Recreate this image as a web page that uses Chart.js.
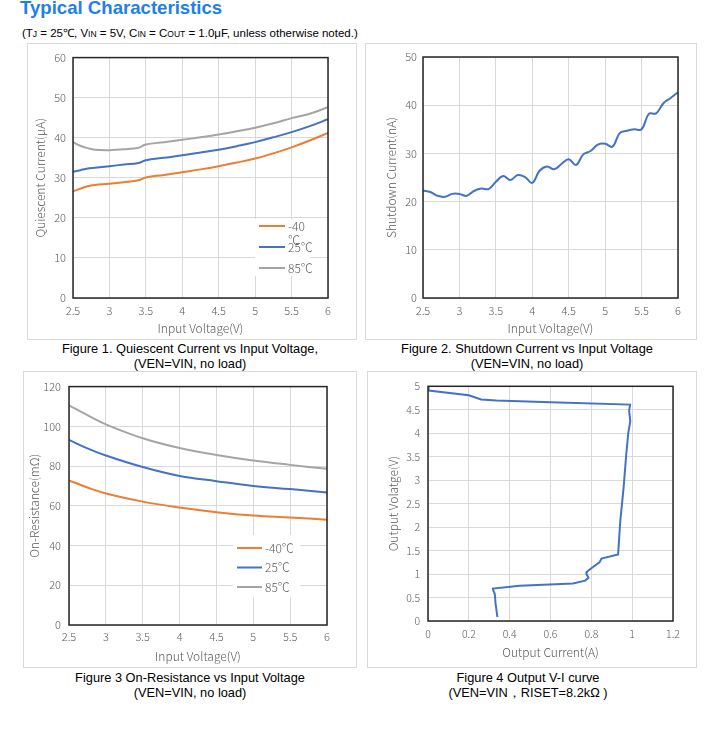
<!DOCTYPE html>
<html>
<head>
<meta charset="utf-8">
<title>Typical Characteristics</title>
<script src="https://cdn.jsdelivr.net/npm/chart.js@4.4.1/dist/chart.umd.min.js"></script>
<style>
  html, body { margin: 0; padding: 0; background: #fff; }
  body { width: 716px; height: 732px; position: relative; overflow: hidden;
         font-family: "Liberation Sans", Arial, sans-serif; }
  .title { position: absolute; left: 20px; top: -1px; font-size: 18.6px; line-height: 18px;
           font-weight: bold; color: #1f80e6; white-space: nowrap; }
  .cond { position: absolute; left: 22px; top: 26px; font-size: 11.5px; line-height: 14px;
          color: #000; white-space: nowrap; }
  .cond small { font-size: 8.5px; }
  .panel { position: absolute; box-sizing: border-box; border: 1px solid #d9d9d9; }
  .panel > div { position: absolute; left: 0; top: 0; width: 100%; height: 100%; }
  .cap { position: absolute; width: 330px; text-align: center; font-size: 12.8px;
         line-height: 15px; color: #000; white-space: nowrap; }
</style>
</head>
<body>
<div class="title">Typical Characteristics</div>
<div class="cond">(T<small>J</small> = 25℃, V<small>IN</small> = 5V, C<small>IN</small> = C<small>OUT</small> = 1.0μF, unless otherwise noted.)</div>

<div class="panel" style="left:27px;top:43px;width:330px;height:297px"><div><canvas id="chartQ"></canvas></div></div>
<div class="panel" style="left:365px;top:43px;width:332px;height:297px"><div><canvas id="chartSd"></canvas></div></div>
<div class="panel" style="left:23px;top:371px;width:334px;height:297px"><div><canvas id="chartRon"></canvas></div></div>
<div class="panel" style="left:367px;top:371px;width:330px;height:297px"><div><canvas id="chartVi"></canvas></div></div>

<div class="cap" style="left:25px;top:341px">Figure 1. Quiescent Current vs Input Voltage,<br>(VEN=VIN, no load)</div>
<div class="cap" style="left:362px;top:341px">Figure 2. Shutdown Current vs Input Voltage<br>(VEN=VIN, no load)</div>
<div class="cap" style="left:25px;top:670px">Figure 3 On-Resistance vs Input Voltage<br>(VEN=VIN, no load)</div>
<div class="cap" style="left:363px;top:670px">Figure 4 Output V-I curve<br>(VEN=VIN，RISET=8.2kΩ )</div>

<script>
// ── Data ────────────────────────────────────────────────────────────────────
// Figure 1: quiescent current (µA) vs input voltage
const qVin  = [2.5, 2.6, 2.7, 2.8, 3.0, 3.2, 3.4, 3.5, 3.75, 4.0, 4.25, 4.5, 4.75, 5.0, 5.25, 5.5, 5.75, 6.0];
const qCold = [26.6, 27.3, 27.9, 28.2, 28.5, 28.9, 29.4, 30.1, 30.7, 31.4, 32.1, 32.9, 33.8, 34.8, 36.1, 37.6, 39.3, 41.2];
const qRoom = [31.5, 31.9, 32.3, 32.5, 32.9, 33.3, 33.7, 34.4, 35.0, 35.6, 36.3, 37.0, 37.9, 38.9, 40.1, 41.4, 42.9, 44.6];
const qHot  = [38.9, 38.0, 37.4, 37.0, 36.9, 37.1, 37.5, 38.3, 38.9, 39.5, 40.1, 40.8, 41.6, 42.5, 43.6, 44.9, 46.0, 47.6];

// Figure 2: shutdown current (nA) vs input voltage
const sdVin = [2.5, 2.6, 2.7, 2.8, 2.9, 3.0, 3.1, 3.2, 3.3, 3.4, 3.5, 3.6, 3.7, 3.8, 3.9, 4.0, 4.1, 4.2,
               4.3, 4.4, 4.5, 4.6, 4.7, 4.8, 4.9, 5.0, 5.1, 5.2, 5.3, 5.4, 5.5, 5.6, 5.7, 5.8, 5.9, 6.0];
const sdCur = [22.3, 22.0, 21.2, 21.0, 21.6, 21.6, 21.2, 22.2, 22.7, 22.6, 24.1, 25.3, 24.5, 25.5, 25.1, 23.9, 26.4, 27.3,
               26.7, 27.8, 28.8, 27.6, 29.8, 30.5, 31.8, 32.0, 31.4, 34.2, 34.7, 35.0, 35.0, 38.2, 38.3, 40.4, 41.5, 42.7];

// Figure 3: on-resistance (mΩ) vs input voltage
const ronVin  = [2.5, 2.75, 3.0, 3.5, 4.0, 4.5, 5.0, 5.5, 6.0];
const ronCold = [72.8, 69.2, 66.2, 62.1, 59.1, 56.8, 55.1, 54.1, 53.0];
const ronRoom = [93.2, 88.9, 85.3, 79.5, 75.0, 72.4, 70.0, 68.4, 66.7];
const ronHot  = [110.6, 105.6, 101.0, 94.0, 89.1, 85.6, 82.8, 80.6, 78.6];

// Figure 4: output V-I curve, traced in drawing order
const viCurrent = [0, 0.003, 0.2, 0.26, 0.335, 0.6, 0.99, 0.985, 0.991, 0.981, 0.971, 0.958, 0.942, 0.931,
                   0.85, 0.84, 0.808, 0.778, 0.776, 0.786, 0.77, 0.71, 0.45, 0.318, 0.318, 0.327, 0.331, 0.34];
const viVoltage = [5.0, 4.91, 4.81, 4.72, 4.70, 4.66, 4.61, 4.48, 4.26, 4.01, 3.55, 2.84, 2.14, 1.42,
                   1.33, 1.25, 1.15, 1.05, 1.00, 0.92, 0.86, 0.80, 0.75, 0.69, 0.67, 0.58, 0.37, 0.085];

const tempLabels = ['-40℃', '25℃', '85℃'];

// ── Look ────────────────────────────────────────────────────────────────────
const ORANGE = '#ed7d31';
const BLUE = '#4472c4';
const GRAY = '#a5a5a5';
const GRID = '#d9d9d9';
const TEXT = '#595959';
const FRAME = '#262626';
const FONT = '"Noto Sans CJK SC", "Noto Sans", sans-serif';

Chart.defaults.font.family = FONT;
Chart.defaults.font.weight = '300';
Chart.defaults.color = TEXT;
Chart.defaults.animation = false;
Chart.defaults.plugins.legend.display = false;
Chart.defaults.plugins.tooltip.enabled = false;

// dark box round the plot area, like the Excel plot-area border
const plotFrame = {
  id: 'plotFrame',
  afterDatasetsDraw(chart) {
    const { ctx, chartArea: a } = chart;
    ctx.save();
    ctx.strokeStyle = FRAME;
    ctx.lineWidth = 1.5;
    ctx.strokeRect(a.left, a.top, a.right - a.left, a.bottom - a.top);
    ctx.restore();
  }
};

// legend sitting inside the plot, on a white patch
const insideLegend = {
  id: 'insideLegend',
  afterDatasetsDraw(chart, args, opts) {
    if (!opts || !opts.x) return;
    const { ctx } = chart;
    ctx.save();
    ctx.fillStyle = '#fff';
    ctx.fillRect(opts.box[0], opts.box[1], opts.box[2], opts.box[3]);
    ctx.font = '300 12px ' + FONT;
    ctx.textBaseline = 'middle';
    ctx.textAlign = 'left';
    chart.data.datasets.forEach((ds, i) => {
      const y = opts.y + i * opts.step;
      ctx.strokeStyle = ds.borderColor;
      ctx.lineWidth = 2;
      ctx.beginPath();
      ctx.moveTo(opts.x, y);
      ctx.lineTo(opts.x + opts.len, y);
      ctx.stroke();
      ctx.fillStyle = TEXT;
      const lines = opts.wrap ? ds.label.split(' ') : [ds.label];
      lines.forEach((t, k) => ctx.fillText(t, opts.x + opts.len + 3, y + k * 14));
    });
    ctx.restore();
  }
};

Chart.register(plotFrame, insideLegend);

// Excel-style tick text: 3 not 3.0
const plainNum = v => String(Number(v.toFixed(3)));

function linearAxis(o) {
  const left = o.pos === 'left';
  return {
    type: 'linear',
    position: o.pos,
    min: o.min,
    max: o.max,
    afterFit: s => { if (left) s.width = o.size; else s.height = o.size; },
    grid: { color: GRID, lineWidth: 1, drawTicks: false },
    border: { display: false },
    ticks: {
      stepSize: o.step,
      padding: o.tickPad,
      autoSkip: false,
      maxRotation: 0,
      color: TEXT,
      font: { size: o.tickSize || 11 },
      callback: plainNum
    },
    title: {
      display: true,
      text: o.title,
      color: TEXT,
      font: { size: 12 },
      padding: left ? { top: o.titlePad, bottom: 0 } : { top: 0, bottom: o.titlePad }
    }
  };
}

function series(label, color, xs, ys, tension) {
  return {
    label,
    data: xs.map((x, i) => ({ x, y: ys[i] })),
    borderColor: color,
    backgroundColor: color,
    borderWidth: 2,
    pointRadius: 0,
    showLine: true,
    fill: false,
    tension
  };
}

function makeChart(id, datasets, x, y, pad, legend) {
  return new Chart(document.getElementById(id), {
    type: 'scatter',
    data: { datasets },
    options: {
      responsive: true,
      maintainAspectRatio: false,
      layout: { padding: { left: 0, top: pad.top, right: pad.right, bottom: 0 } },
      scales: { x: linearAxis(Object.assign({ pos: 'bottom' }, x)), y: linearAxis(Object.assign({ pos: 'left' }, y)) },
      plugins: { insideLegend: legend || {} }
    }
  });
}

// ── Figure 1 ────────────────────────────────────────────────────────────────
makeChart('chartQ', [
    series('-40 ℃', ORANGE, qVin, qCold, 0.4),
    series(tempLabels[1], BLUE, qVin, qRoom, 0.4),
    series(tempLabels[2], GRAY, qVin, qHot, 0.4)
  ],
  { min: 2.5, max: 6, step: 0.5, size: 41, tickPad: 6, title: 'Input Voltage(V)', titlePad: 3 },
  { min: 0, max: 60, step: 10, size: 45, tickPad: 7, title: 'Quiescent Current(μA)', titlePad: 5 },
  { top: 13, right: 28 },
  { x: 231, y: 182, step: 21, len: 26, wrap: true, box: [227, 175, 55, 57] }
);

// ── Figure 2 ────────────────────────────────────────────────────────────────
makeChart('chartSd', [series('Shutdown', BLUE, sdVin, sdCur, 0.4)],
  { min: 2.5, max: 6, step: 0.5, size: 41, tickPad: 6, title: 'Input Voltage(V)', titlePad: 3 },
  { min: 0, max: 50, step: 10, size: 57, tickPad: 6, title: 'Shutdown Current(nA)', titlePad: 18 },
  { top: 13, right: 18 }
);

// ── Figure 3 ────────────────────────────────────────────────────────────────
makeChart('chartRon', [
    series(tempLabels[0], ORANGE, ronVin, ronCold, 0.4),
    series(tempLabels[1], BLUE, ronVin, ronRoom, 0.4),
    series(tempLabels[2], GRAY, ronVin, ronHot, 0.4)
  ],
  { min: 2.5, max: 6, step: 0.5, size: 42, tickPad: 5, title: 'Input Voltage(V)', titlePad: 3 },
  { min: 0, max: 120, step: 20, size: 45, tickPad: 8, title: 'On-Resistance(mΩ)', titlePad: 3 },
  { top: 11, right: 29 },
  { x: 213, y: 176, step: 19.5, len: 25, box: [209, 163, 67, 62] }
);

// ── Figure 4 ────────────────────────────────────────────────────────────────
makeChart('chartVi', [series('V-I', BLUE, viCurrent, viVoltage, 0)],
  { min: 0, max: 1.2, step: 0.2, size: 46, tickPad: 7, tickSize: 10.5, title: 'Output Current(A)', titlePad: 7 },
  { min: 0, max: 5, step: 0.5, size: 60, tickPad: 8, tickSize: 10.5, title: 'Output Volatge(V)', titlePad: 18 },
  { top: 13, right: 23 }
);
</script>
</body>
</html>
